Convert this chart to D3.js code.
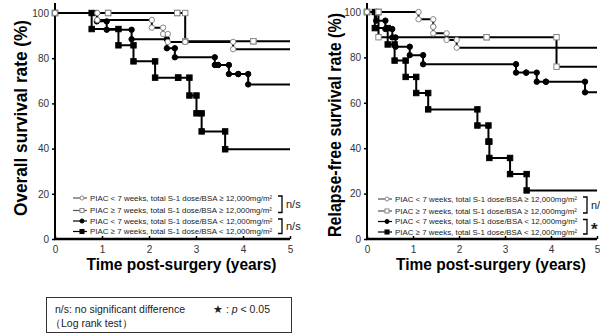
<!DOCTYPE html>
<html>
<head>
<meta charset="utf-8">
<script src="https://cdn.jsdelivr.net/npm/d3@7"></script>
<style>
  body { margin: 0; background: #fff; }
  svg { font-family: "Liberation Sans", Arial, sans-serif; }
</style>
</head>
<body>
<svg id="chart"></svg>
<script>
// event lists: [years, survival % after the event]; a repeated value = censored case
const osShortHigh = [[0.9, 96.9], [2.06, 93.5], [2.3, 90.7], [2.4, 87.2], [2.77, 87.2], [3.79, 84.0]];
const osLongHigh = [[1.13, 100], [2.6, 100], [2.77, 87.5], [4.22, 87.5]];
const osShortLow = [[0.89, 96.3], [1.1, 92.6], [1.63, 88.4], [2.38, 84.4], [2.55, 80.4], [3.4, 77.0], [3.47, 77.0], [3.7, 73.0], [3.9, 73.0], [4.11, 68.4]];
const osLongLow = [[0.78, 92.9], [1.35, 85.7], [1.67, 78.6], [2.13, 71.4], [2.62, 71.4], [2.86, 63.5], [3.01, 55.6], [3.12, 47.6], [3.62, 39.7]];

const rfsShortHigh = [[1.12, 96.8], [1.44, 93.5], [1.44, 90.6], [1.73, 87.7], [1.95, 84.3]];
const rfsLongHigh = [[0.25, 100], [0.25, 88.9], [2.6, 88.9], [4.12, 75.9]];
const rfsShortLow = [[0.2, 96.2], [0.4, 92.5], [0.55, 88.8], [0.62, 84.7], [0.93, 81.0], [1.22, 77.0], [3.24, 73.3], [3.46, 73.3], [3.69, 69.3], [3.89, 69.3], [4.74, 64.6]];
const rfsLongLow = [[0.17, 92.9], [0.45, 85.7], [0.6, 78.6], [0.84, 71.4], [1.07, 64.3], [1.33, 57.1], [2.4, 50.0], [2.64, 42.9], [2.66, 35.7], [3.11, 28.6], [3.47, 21.4]];

const legendLabels = [
  'PIAC < 7 weeks, total S-1 dose/BSA \u2265 12,000mg/m\u00b2',
  'PIAC \u2265 7 weeks, total S-1 dose/BSA \u2265 12,000mg/m\u00b2',
  'PIAC < 7 weeks, total S-1 dose/BSA < 12,000mg/m\u00b2',
  'PIAC \u2265 7 weeks, total S-1 dose/BSA < 12,000mg/m\u00b2'
];
const markerTypes = ['openCircle', 'openSquare', 'circle', 'square'];
const xTicks = [0, 1, 2, 3, 4, 5];
const yTicks = [0, 20, 40, 60, 80, 100];

const svg = d3.select('#chart').attr('width', 600).attr('height', 335);

const drawMarker = (g, type, x, y, small) => {
  const s = small ? 0.75 : 1;
  if (type.endsWith('ircle')) {
    g.append('circle').attr('cx', x).attr('cy', y).attr('r', 2.7 * s)
      .attr('fill', type === 'circle' ? '#000' : '#fff')
      .attr('stroke', type === 'circle' ? '#000' : '#888').attr('stroke-width', 1);
  } else {
    const h = 2.7 * s;
    g.append('rect').attr('x', x - h).attr('y', y - h).attr('width', 2 * h).attr('height', 2 * h)
      .attr('fill', type === 'square' ? '#000' : '#fff')
      .attr('stroke', type === 'square' ? '#000' : '#888').attr('stroke-width', 1);
  }
};

const stepPoints = (events) => {
  const pts = [[0, 100]];
  let prev = 100;
  events.forEach(([t, v]) => {
    pts.push([t, prev]);
    pts.push([t, v]);
    prev = v;
  });
  return pts;
};

const drawPanel = (cfg) => {
  const x = d3.scaleLinear().domain([0, 5]).range([cfg.x0, cfg.x1]),
    y = d3.scaleLinear().domain([0, 100]).range([239, cfg.yTop]);
  const g = svg.append('g');

  // axes
  const yAxis = g.append('g').attr('transform', 'translate(' + cfg.x0 + ',0)')
    .call(d3.axisLeft(y).tickValues(yTicks).tickSize(3).tickPadding(3).tickFormat(d3.format('d')));
  yAxis.select('.domain').remove();
  yAxis.selectAll('text').attr('font-size', 10).attr('fill', '#333');
  yAxis.selectAll('line').attr('stroke-width', 1.5);
  g.append('line').attr('x1', cfg.x0).attr('x2', cfg.x0).attr('y1', 3).attr('y2', 240)
    .attr('stroke', '#000').attr('stroke-width', 2);

  const xAxis = g.append('g').attr('transform', 'translate(0,239)')
    .call(d3.axisBottom(x).tickValues(xTicks).tickSize(-3).tickPadding(7).tickFormat(d3.format('d')));
  xAxis.select('.domain').remove();
  xAxis.selectAll('text').attr('font-size', 10).attr('fill', '#333');
  xAxis.selectAll('line').attr('stroke-width', 1.5);
  g.append('line').attr('x1', cfg.x0 - 1).attr('x2', cfg.x1).attr('y1', 239).attr('y2', 239)
    .attr('stroke', '#000').attr('stroke-width', 2.5);

  // titles
  g.append('text').text(cfg.yTitle)
    .attr('transform', 'translate(' + cfg.yTitleX + ',' + cfg.yTitleY + ') rotate(-90)')
    .attr('text-anchor', 'middle').attr('font-weight', 'bold').attr('font-size', 17.5)
    .attr('textLength', cfg.yTitleLen).attr('lengthAdjust', 'spacingAndGlyphs');
  g.append('text').text('Time post-surgery (years)')
    .attr('x', (cfg.x0 + cfg.x1) / 2 + 9).attr('y', 270)
    .attr('text-anchor', 'middle').attr('font-weight', 'bold').attr('font-size', 17)
    .attr('textLength', 190).attr('lengthAdjust', 'spacingAndGlyphs');

  // curves
  const line = d3.line().x((d) => x(d[0])).y((d) => y(d[1]));
  const pointSets = cfg.series.map(stepPoints);
  pointSets.forEach((pts) => {
    g.append('path').datum(pts.concat([[5, pts[pts.length - 1][1]]]))
      .attr('d', line).attr('fill', 'none').attr('stroke', '#000').attr('stroke-width', 2);
  });
  [3, 2, 1, 0].forEach((i) => {
    pointSets[i].forEach((p) => drawMarker(g, markerTypes[i], x(p[0]), y(p[1]), false));
  });

  // legend
  const lg = g.append('g');
  cfg.legendY.forEach((ly, i) => {
    lg.append('line').attr('x1', cfg.legendX - 17).attr('x2', cfg.legendX - 3)
      .attr('y1', ly).attr('y2', ly).attr('stroke', i < 2 ? '#555' : '#000').attr('stroke-width', 1.2);
    drawMarker(lg, markerTypes[i], cfg.legendX - 8, ly, true);
    lg.append('text').text(legendLabels[i]).attr('x', cfg.legendX).attr('y', ly + 2.7)
      .attr('font-size', 7.9).attr('fill', '#222');
  });
  cfg.brackets.forEach((b, i) => {
    const top = cfg.legendY[2 * i] - 2, bot = cfg.legendY[2 * i + 1] + 2;
    lg.append('path').attr('d', 'M' + (cfg.bracketX - 4) + ',' + top + 'H' + cfg.bracketX + 'V' + bot + 'H' + (cfg.bracketX - 4))
      .attr('fill', 'none').attr('stroke', '#000').attr('stroke-width', 1.3);
    lg.append('text').text(b).attr('x', cfg.bracketX + 4).attr('y', (top + bot) / 2 + (b === '*' ? 8 : 4))
      .attr('font-size', b === '*' ? 17 : 11).attr('font-weight', b === '*' ? 'bold' : 'normal').attr('fill', '#222');
  });
};

drawPanel({
  x0: 55, x1: 290, yTop: 13,
  yTitle: 'Overall survival rate (%)', yTitleX: 27, yTitleY: 118, yTitleLen: 196,
  series: [osShortHigh, osLongHigh, osShortLow, osLongLow],
  legendX: 90, legendY: [198, 210.5, 221, 231.5], bracketX: 282, brackets: ['n/s', 'n/s']
});
drawPanel({
  x0: 367, x1: 597, yTop: 12,
  yTitle: 'Relapse-free survival rate (%)', yTitleX: 341, yTitleY: 125, yTitleLen: 224,
  series: [rfsShortHigh, rfsLongHigh, rfsShortLow, rfsLongLow],
  legendX: 395, legendY: [199, 211, 221.5, 232], bracketX: 587, brackets: ['n/s', '*']
});

// note box
const note = svg.append('g');
note.append('rect').attr('x', 46.5).attr('y', 297.5).attr('width', 245).attr('height', 35)
  .attr('fill', '#fff').attr('stroke', '#333').attr('stroke-width', 1);
note.append('text').text('n/s: no significant difference').attr('x', 55).attr('y', 313)
  .attr('font-size', 10.5).attr('fill', '#222');
note.append('text').text('\uff08Log rank test\uff09').attr('x', 50).attr('y', 327)
  .attr('font-size', 10.5).attr('fill', '#222');
const pNote = note.append('text').attr('x', 213).attr('y', 313).attr('font-size', 10.5).attr('fill', '#222');
pNote.append('tspan').text('\u2605').attr('font-size', 11);
pNote.append('tspan').text(' : ');
pNote.append('tspan').text('p').attr('font-style', 'italic');
pNote.append('tspan').text(' < 0.05');
</script>
</body>
</html>
